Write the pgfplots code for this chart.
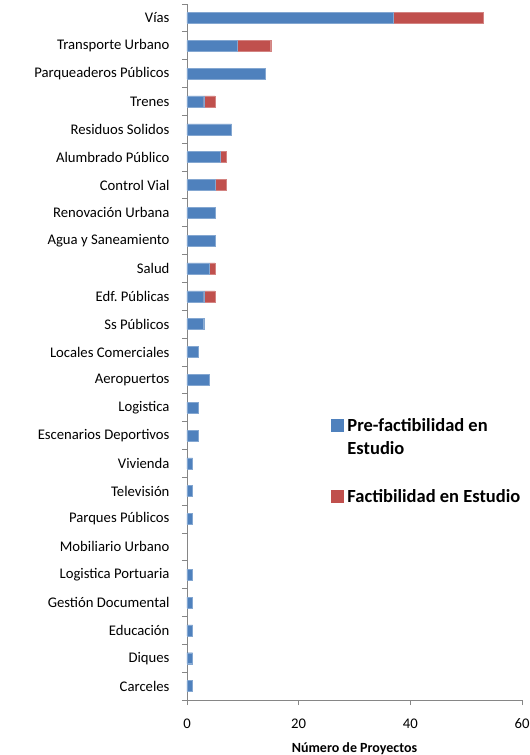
\documentclass[border=0pt]{standalone}
\usepackage{fontspec}
\setmainfont{Carlito}
\usepackage{pgfplots}
\pgfplotsset{compat=1.18}
\usepackage{pgfplotstable}
\definecolor{cblue}{HTML}{4F81BD}
\definecolor{cred}{HTML}{C0504D}
\definecolor{axgray}{HTML}{868686}
\frenchspacing

\pgfplotstableread{
pos pre fac
24 37 16
23 9 6
22 14 0
21 3 2
20 8 0
19 6 1
18 5 2
17 5 0
16 5 0
15 4 1
14 3 2
13 3 0
12 2 0
11 4 0
10 2 0
9 2 0
8 1 0
7 1 0
6 1 0
5 0 0
4 1 0
3 1 0
2 1 0
1 1 0
0 1 0
}\datatable

\begin{document}
\begin{tikzpicture}
\begin{axis}[
  name=ax,
  scale only axis,
  width=335bp, height=696bp,
  xbar stacked,
  bar width=11bp,
  xmin=0, xmax=60,
  ymin=-0.5, ymax=24.5,
  axis lines*=left,
  axis line style={axgray},
  tick style={axgray, line width=0.8pt},
  tick align=outside,
  major tick length=5bp,
  xtick={0,20,40,60},
  ytick={-0.5,0.5,...,24.5},
  yticklabels={Carceles,Diques,Educación,Gestión Documental,Logistica Portuaria,Mobiliario Urbano,Parques Públicos,Televisión,Vivienda,Escenarios Deportivos,Logistica,Aeropuertos,Locales Comerciales,Ss Públicos,Edf.\ Públicas,Salud,Agua y Saneamiento,Renovación Urbana,Control Vial,Alumbrado Público,Residuos Solidos,Trenes,Parqueaderos Públicos,Transporte Urbano,Vías,{}},
  yticklabel style={font=\fontsize{14.7bp}{17bp}\selectfont, yshift=13.92bp, xshift=-9bp},
  xticklabel style={font=\fontsize{14.7bp}{17bp}\selectfont, yshift=-10bp},
  /pgf/number format/assume math mode=true,
  xlabel={\textbf{Número de Proyectos}},
  xlabel style={font=\fontsize{14bp}{16bp}\selectfont, yshift=-7bp},
  legend style={draw=none, fill=none, at={(0.419,0.411)}, anchor=north west,
    font=\bfseries\fontsize{18.5bp}{23.5bp}\selectfont, cells={anchor=west, align=left}, row sep=29bp},
  legend cell align=left,
]
\addplot[fill=cblue, draw=cblue!70!white, line width=0.4pt,
  legend image code/.code={\fill[cblue] (0bp,6bp) rectangle (12bp,18bp); \path (14.5bp,0bp);}] table[x=pre, y=pos] {\datatable};
\addplot[fill=cred, draw=cred!70!white, line width=0.4pt,
  legend image code/.code={\fill[cred] (0bp,-6bp) rectangle (12bp,6bp); \path (14.5bp,0bp);}] table[x=fac, y=pos] {\datatable};
\legend{{Pre-factibilidad en\\Estudio},{Factibilidad en Estudio}}
\end{axis}
\pgfresetboundingbox
\useasboundingbox ([xshift=-187bp,yshift=-55bp]ax.south west) rectangle ([xshift=8bp,yshift=4bp]ax.north east);
\end{tikzpicture}
\end{document}
